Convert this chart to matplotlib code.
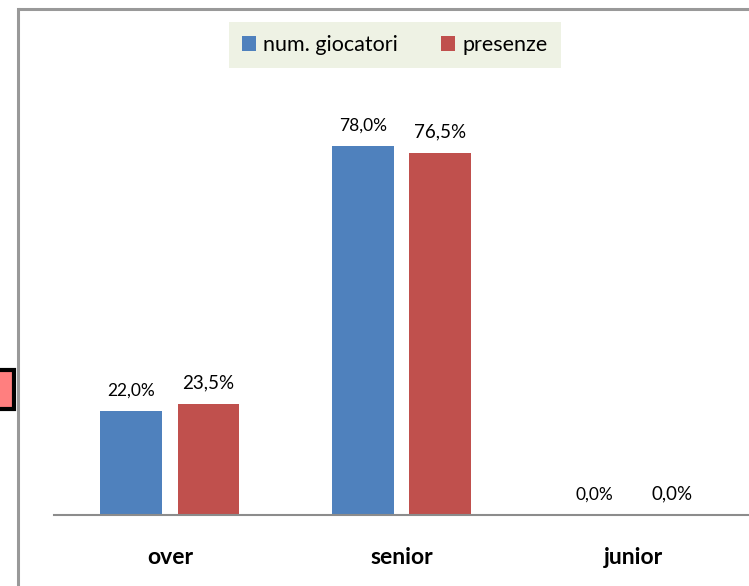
import matplotlib
matplotlib.use("Agg")
import numpy as np
import matplotlib.pyplot as plt
from matplotlib.patches import Rectangle
from matplotlib.lines import Line2D

categories = ["over", "senior", "junior"]
giocatori = [22.0, 78.0, 0.0]
presenze = [23.5, 76.5, 0.0]
series_names = ["num. giocatori", "presenze"]

plt.rcParams['font.family'] = ['Lato', 'DejaVu Sans']

W, H = 749, 586
fig = plt.figure(figsize=(W / 100, H / 100), dpi=100)

# outer chart frame: left and top edges only
fig.add_artist(Line2D([18 / W, 18 / W], [0.0, 1 - 9 / H], transform=fig.transFigure,
                      color="#999999", linewidth=2.2, solid_capstyle="projecting"))
fig.add_artist(Line2D([18 / W, 1.05], [1 - 9 / H, 1 - 9 / H], transform=fig.transFigure,
                      color="#999999", linewidth=2.2, solid_capstyle="butt"))
# stray pink box at the left edge
fig.patches.append(Rectangle((-5 / W, 1 - 409 / H), 19 / W, 39 / H, transform=fig.transFigure,
                             facecolor="#FF7F7F", edgecolor="black", linewidth=3, zorder=1))

ax = fig.add_axes([54 / W, 1 - 515 / H, 1 - 54 / W, (515 - 20) / H])
ax.set_facecolor("none")
ax.set_zorder(2)

x = np.arange(len(categories))
w = 0.267
off = 0.167
b1 = ax.bar(x - off, giocatori, w, color="#4F81BD", label=series_names[0])
b2 = ax.bar(x + off, presenze, w, color="#C0504D", label=series_names[1])

def fmt(v):
    return f"{v:.1f}%".replace(".", ",")

for xi, v in zip(x, giocatori):
    ax.annotate(fmt(v), (xi - off, v), xytext=(0, 9), textcoords="offset points",
                ha="center", va="bottom", fontsize=12.5, color="black")
for xi, v in zip(x, presenze):
    ax.annotate(fmt(v), (xi + off, v), xytext=(0, 9), textcoords="offset points",
                ha="center", va="bottom", fontsize=13.5, color="black")

ax.set_xlim(-0.5, 2.5)
ax.set_ylim(0, 495 / 4.73)
ax.set_xticks(x)
ax.set_xticklabels(categories, fontsize=16.5, fontweight="bold")
ax.tick_params(axis="x", length=0, pad=23)
ax.set_yticks([])
for s in ["top", "left", "right"]:
    ax.spines[s].set_visible(False)
ax.spines["bottom"].set_color("#8c8c8c")
ax.spines["bottom"].set_linewidth(1.5)

leg = fig.legend(handles=[b1, b2], loc="center", bbox_to_anchor=(395 / W, 1 - 45 / H),
                 ncol=2, fontsize=15.5, frameon=True, fancybox=False,
                 handlelength=0.65, handleheight=0.65, handletextpad=0.35, columnspacing=2.0,
                 borderpad=0.6, borderaxespad=0)
leg.get_frame().set_facecolor("#EEF2E4")
leg.get_frame().set_edgecolor("none")
leg.get_frame().set_alpha(1)
leg.set_zorder(3)

fig.savefig("out.png", dpi=100)
